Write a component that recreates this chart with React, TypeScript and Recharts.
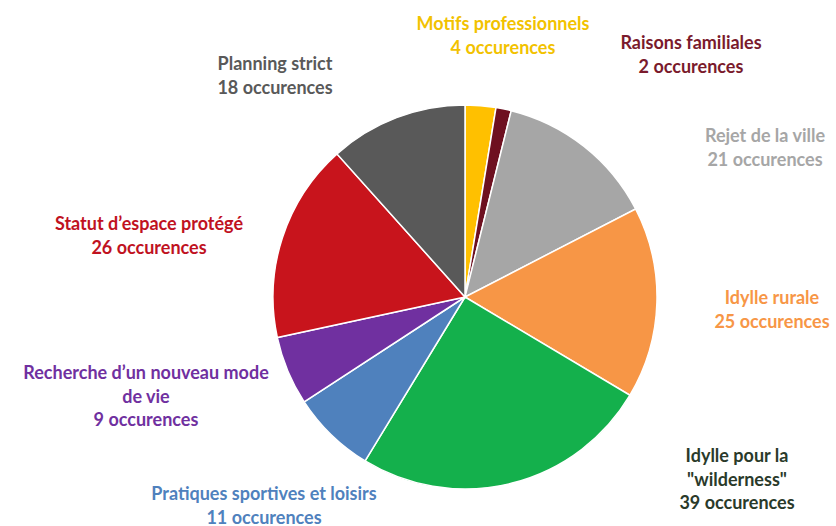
import React from "react";
import { PieChart, Pie, Cell } from "recharts";

const categories = [
  "Motifs professionnels",
  "Raisons familiales",
  "Rejet de la ville",
  "Idylle rurale",
  "Idylle pour la\n\"wilderness\"",
  "Pratiques sportives et loisirs",
  "Recherche d’un nouveau mode\nde vie",
  "Statut d’espace protégé",
  "Planning strict",
];

const occurrences = [4, 2, 21, 25, 39, 11, 9, 26, 18];

const sliceColors = [
  "#FFC000",
  "#6E1020",
  "#A6A6A6",
  "#F79646",
  "#14B04C",
  "#4F81BD",
  "#7030A0",
  "#C8141C",
  "#595959",
];

const textColors = [
  "#F2C200",
  "#7A1A2C",
  "#A6A6A6",
  "#F79646",
  "#2A3A2A",
  "#4F81BD",
  "#7030A0",
  "#C0121F",
  "#595959",
];

// label anchor offsets relative to pie centre (layout only)
const labelOffsets: [number, number][] = [
  [38, -274],
  [226, -255],
  [300, -162],
  [307, 0],
  [272, 158],
  [-201, 196],
  [-319, 75],
  [-316, -74],
  [-190, -234],
];

const data = categories.map((name, i) => ({ name, value: occurrences[i] }));

const LINE_H = 23.5;

const renderLabel = (props: any) => {
  const { cx, cy, index, payload } = props;
  const [dx, dy] = labelOffsets[index];
  const lines = String(payload.name).split("\n");
  lines.push(`${payload.value} occurences`);
  return (
    <text
      key={`lbl-${index}`}
      x={cx + dx}
      y={cy + dy}
      textAnchor="middle"
      fill={textColors[index]}
      fontFamily="Lato, sans-serif"
      fontWeight={700}
      fontSize={18}
    >
      {lines.map((l, j) => (
        <tspan key={j} x={cx + dx} y={cy + dy + j * LINE_H} dominantBaseline="central">
          {l}
        </tspan>
      ))}
    </text>
  );
};

export default function App() {
  return (
    <div style={{ width: 836, height: 526, background: "#fff" }}>
      <style>{"body{margin:0;}"}</style>
      <PieChart width={836} height={526} margin={{ top: 0, right: 0, bottom: 0, left: 0 }}>
        <Pie
          data={data}
          dataKey="value"
          nameKey="name"
          cx={465}
          cy={297}
          outerRadius={192}
          startAngle={90}
          endAngle={-270}
          stroke="#ffffff"
          strokeWidth={1.5}
          label={renderLabel}
          labelLine={false}
          isAnimationActive={false}
        >
          {data.map((d, i) => (
            <Cell key={d.name} fill={sliceColors[i]} />
          ))}
        </Pie>
      </PieChart>
    </div>
  );
}
